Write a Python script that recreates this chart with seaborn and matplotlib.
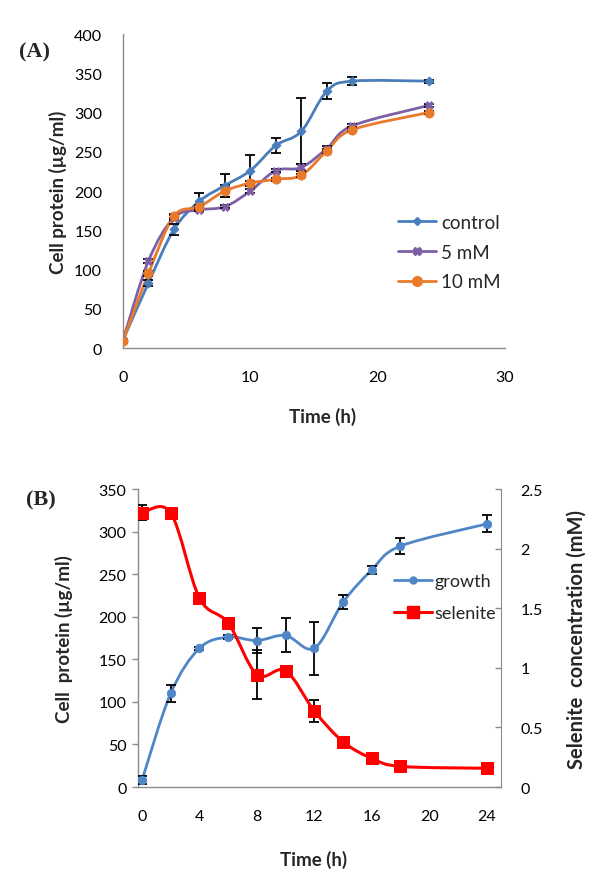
import numpy as np
import matplotlib
matplotlib.use("Agg")
import matplotlib.pyplot as plt
from matplotlib.path import Path
from matplotlib.patches import PathPatch
from matplotlib.lines import Line2D
from matplotlib.ticker import FuncFormatter
import seaborn as sns
import pandas as pd

# ---------------- data ----------------
time_h = [0, 2, 4, 6, 8, 10, 12, 14, 16, 18, 24]

# Panel A
control = [10, 83, 151, 187, 207, 226, 258, 276, 327, 340, 340]
control_err = [2, 4, 7, 10, 15, 20, 10, 42, 10, 5, 2]
mm5 = [10, 111, 166, 176, 180, 200, 226, 230, 254, 283, 309]
mm5_err = [2, 3, 3, 2, 2, 3, 2, 4, 3, 2, 2]
mm10 = [9, 95, 168, 180, 200, 210, 215, 220, 251, 278, 300]
mm10_err = [2, 3, 3, 2, 8, 3, 2, 2, 3, 2, 2]

# Panel B
growth = [8, 110, 163, 176, 172, 178, 163, 217, 255, 283, 309]
growth_err = [5, 10, 2, 2, 15, 20, 31, 8, 5, 9, 10]
selenite = [2.30, 2.30, 1.585, 1.376, 0.943, 0.976, 0.638, 0.38, 0.24, 0.173, 0.157]
selenite_err = [0.063, 0.02, 0.02, 0.03, 0.205, 0.04, 0.09, 0.015, 0.04, 0.01, 0.01]

labels_A = ["control", "5 mM", "10 mM"]
labels_B = ["growth", "selenite"]

# ---------------- style ----------------
sns.set_style("white")
plt.rcParams["font.family"] = ["Lato", "DejaVu Sans"]

C_CTRL = "#4A7EBB"
C_5 = "#7D5FA5"
C_10 = "#E97A2C"
C_GROW = "#4F86C6"
C_SEL = "#FF0000"
GRAY = "#8C8C8C"
LAB_FS = 13.5
TICK_FS = 11.5


def smooth_patch(xs, ys, color, lw=2.0):
    P = np.column_stack([np.asarray(xs, float), np.asarray(ys, float)])
    n = len(P)
    verts = [P[0]]
    codes = [Path.MOVETO]
    for i in range(n - 1):
        p0 = P[i - 1] if i > 0 else P[i]
        p1 = P[i]
        p2 = P[i + 1]
        p3 = P[i + 2] if i + 2 < n else P[i + 1]
        c1 = p1 + (p2 - p0) / 6.0
        c2 = p2 - (p3 - p1) / 6.0
        verts += [c1, c2, p2]
        codes += [Path.CURVE4] * 3
    return PathPatch(Path(verts, codes), facecolor="none", edgecolor=color,
                     lw=lw, zorder=2, capstyle="round", joinstyle="round")


def style_axis(ax, ypad=8):
    for s in ["top", "right"]:
        ax.spines[s].set_visible(False)
    for s in ["left", "bottom"]:
        ax.spines[s].set_color(GRAY)
        ax.spines[s].set_linewidth(1.0)
    ax.tick_params(axis="both", direction="out", length=4, width=1,
                   color=GRAY, labelsize=TICK_FS, labelcolor="black")
    ax.tick_params(axis="y", pad=ypad)
    ax.tick_params(axis="x", pad=12)
    ax.grid(False)


fig = plt.figure(figsize=(6.0, 8.78), dpi=100)

# ---------------- Panel A ----------------
axA = fig.add_axes([0.205, 0.6025, 0.6367, 0.3576])
series_A = [(control, control_err, C_CTRL, "D", 22),
            (mm5, mm5_err, C_5, "X", 34),
            (mm10, mm10_err, C_10, "o", 45)]
for (vals, errs, col, mk, sz), lab in zip(series_A, labels_A):
    axA.add_patch(smooth_patch(time_h, vals, col))
    df = pd.DataFrame({"t": time_h, "v": vals})
    axA.errorbar(time_h, vals, yerr=errs, fmt="none", ecolor="black",
                 elinewidth=1.3, capsize=3.5, capthick=1.3, zorder=3)
    sns.scatterplot(data=df, x="t", y="v", ax=axA, marker=mk, s=sz,
                    color=col, edgecolor=col, linewidth=0.5, zorder=4,
                    legend=False)
axA.set_xlim(0, 30)
axA.set_ylim(0, 400)
axA.set_xticks([0, 10, 20, 30])
axA.set_yticks(range(0, 401, 50))
style_axis(axA, ypad=11)
axA.set_xlabel("Time (h)", fontsize=LAB_FS, fontweight="bold")
axA.set_ylabel("Cell protein (µg/ml)", fontsize=LAB_FS, fontweight="bold")
axA.xaxis.set_label_coords(0.5236, -0.2166)
axA.xaxis.label.set_verticalalignment("center")
axA.yaxis.set_label_coords(-0.17, 0.5)
axA.yaxis.label.set_verticalalignment("center")
handlesA = [Line2D([], [], color=c, lw=2, marker=m, markersize=ms)
            for c, m, ms in [(C_CTRL, "D", 4), (C_5, "X", 6), (C_10, "o", 7)]]
axA.legend(handlesA, labels_A, loc="upper left", frameon=False,
           bbox_to_anchor=(398 / 600, 1 - 215 / 878),
           bbox_transform=fig.transFigure, fontsize=13.5, handlelength=2.0,
           handletextpad=0.3, labelspacing=0.68, borderpad=0, borderaxespad=0)
fig.text(35 / 600, 1 - 52 / 878, "(A)", fontsize=16, fontweight="bold",
         family="Liberation Serif", ha="center", va="center")

# ---------------- Panel B ----------------
axB = fig.add_axes([0.2295, 0.1025, 0.6055, 0.3394])
axB2 = axB.twinx()
axB.add_patch(smooth_patch(time_h, growth, C_GROW))
axB2.add_patch(smooth_patch(time_h, selenite, C_SEL, lw=2.2))
axB.errorbar(time_h, growth, yerr=growth_err, fmt="none", ecolor="black",
             elinewidth=1.3, capsize=3.5, capthick=1.3, zorder=3)
axB2.errorbar(time_h, selenite, yerr=selenite_err, fmt="none", ecolor="black",
              elinewidth=1.3, capsize=3.5, capthick=1.3, zorder=3)
dfg = pd.DataFrame({"t": time_h, "v": growth})
dfs = pd.DataFrame({"t": time_h, "v": selenite})
sns.scatterplot(data=dfg, x="t", y="v", ax=axB, marker="o", s=38,
                color=C_GROW, edgecolor=C_GROW, zorder=4, legend=False)
sns.scatterplot(data=dfs, x="t", y="v", ax=axB2, marker="s", s=80,
                color=C_SEL, edgecolor=C_SEL, zorder=4, legend=False)
axB.set_xlim(-0.3, 25)
axB.set_ylim(0, 350)
axB2.set_ylim(0, 2.5)
axB.set_xticks(range(0, 25, 4))
axB.set_yticks(range(0, 351, 50))
axB2.set_yticks([0, 0.5, 1, 1.5, 2, 2.5])
axB2.yaxis.set_major_formatter(FuncFormatter(lambda v, p: f"{v:g}"))
style_axis(axB, ypad=4)
axB2.spines["top"].set_visible(False)
axB2.spines["left"].set_visible(False)
axB2.spines["bottom"].set_visible(False)
axB2.spines["right"].set_visible(True)
axB2.spines["right"].set_color(GRAY)
axB2.tick_params(axis="y", direction="in", length=4, width=1, color=GRAY,
                 labelsize=TICK_FS, labelcolor="black", pad=14)
axB2.grid(False)
axB.set_xlabel("Time (h)", fontsize=LAB_FS, fontweight="bold")
axB.set_ylabel("Cell  protein (µg/ml)", fontsize=LAB_FS, fontweight="bold")
axB2.set_ylabel("Selenite  concentration (mM)", fontsize=14.5,
                fontweight="bold")
axB.xaxis.set_label_coords(0.485, -0.2416)
axB.xaxis.label.set_verticalalignment("center")
axB.yaxis.set_label_coords(-0.203, 0.5)
axB.yaxis.label.set_verticalalignment("center")
axB2.yaxis.set_label_coords(1.209, 0.5)
axB2.yaxis.label.set_verticalalignment("center")
handlesB = [Line2D([], [], color=C_GROW, lw=2, marker="o", markersize=5),
            Line2D([], [], color=C_SEL, lw=2.2, marker="s", markersize=8)]
axB2.legend(handlesB, labels_B, loc="upper left", frameon=False,
            bbox_to_anchor=(394 / 600, 1 - 574 / 878),
            bbox_transform=fig.transFigure, fontsize=13, handlelength=2.1,
            handletextpad=0.15, labelspacing=0.9, borderpad=0, borderaxespad=0)
fig.text(41 / 600, 1 - 500 / 878, "(B)", fontsize=16, fontweight="bold",
         family="Liberation Serif", ha="center", va="center")

fig.savefig("out.png", dpi=100, facecolor="white")
